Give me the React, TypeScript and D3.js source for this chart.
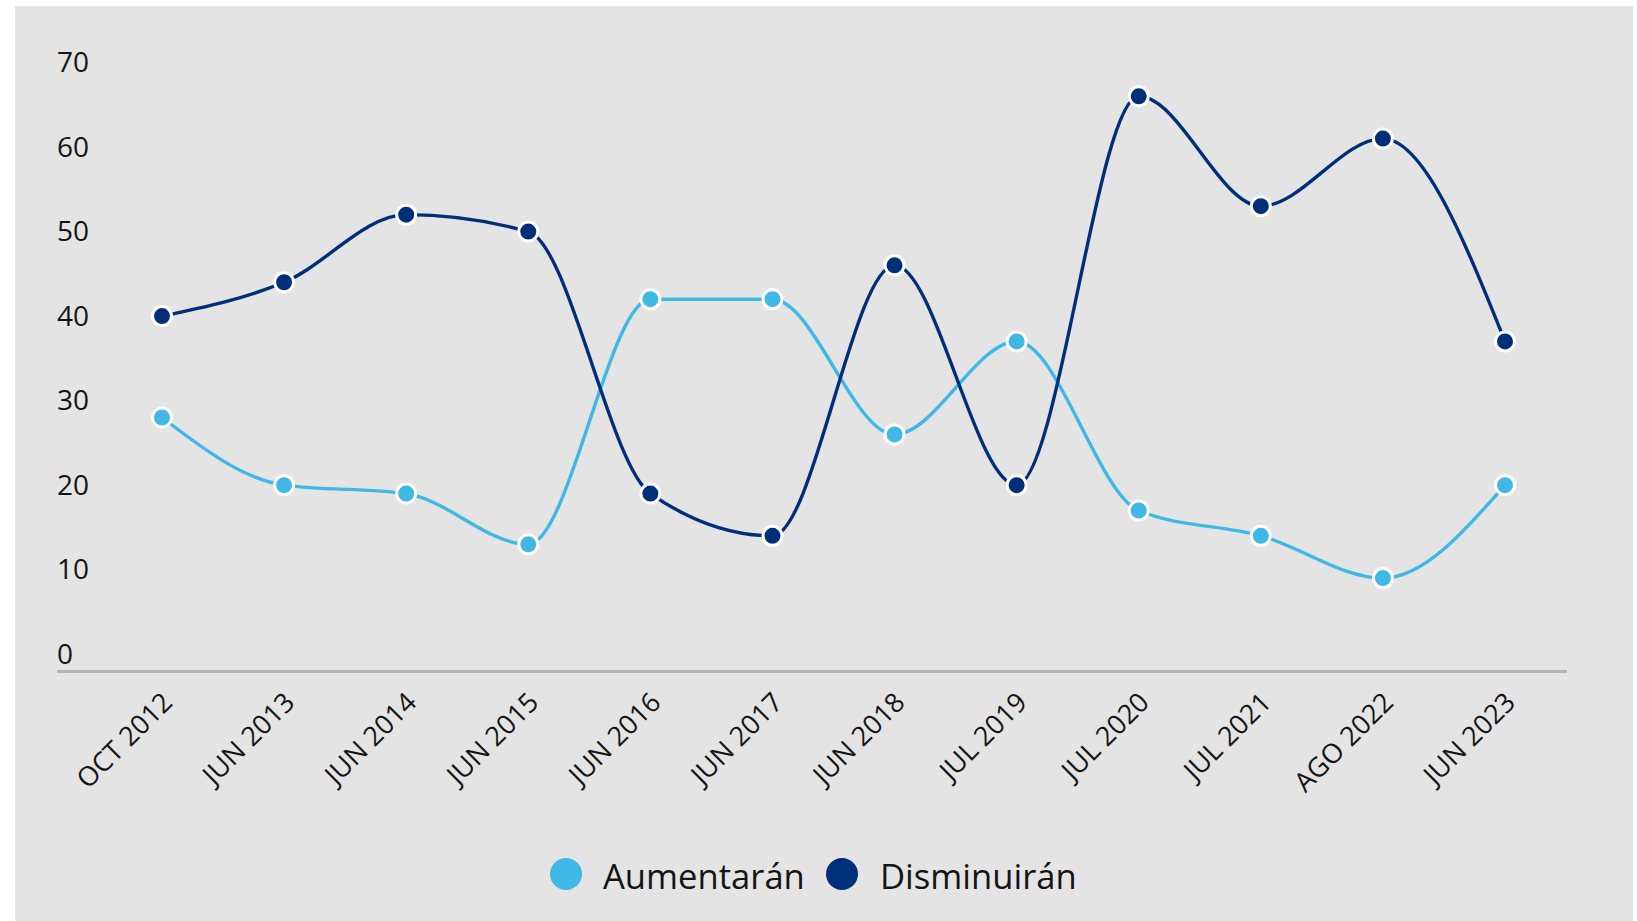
import React from "react";
import * as d3 from "d3";

const categories = ["OCT 2012","JUN 2013","JUN 2014","JUN 2015","JUN 2016","JUN 2017","JUN 2018","JUL 2019","JUL 2020","JUL 2021","AGO 2022","JUN 2023"];
const aumentaran = [28,20,19,13,42,42,26,37,17,14,9,20];
const disminuiran = [40,44,52,50,19,14,46,20,66,53,61,37];
const yTicks = [0,10,20,30,40,50,60,70];
const seriesNames = ["Aumentarán","Disminuirán"];
const seriesColors = ["#3fb8e5","#002f7a"];

export default function App() {
  const W = 1637, H = 921;
  const x = d3.scalePoint<string>().domain(categories).range([162, 1505]);
  const y = d3.scaleLinear().domain([0, 70]).range([654.2, 62.5]);
  const line = d3.line<number>()
    .x((_, i) => x(categories[i]) as number)
    .y((d) => y(d))
    .curve(d3.curveMonotoneX);
  const series = [aumentaran, disminuiran];
  const font = "'Open Sans', 'Noto Sans', sans-serif";
  const legend = [
    { cx: 566, tx: 603 },
    { cx: 842, tx: 880 },
  ];
  return (
    <svg width={W} height={H} style={{ position: "absolute", left: 0, top: 0, display: "block" }} fontFamily={font}>
      <rect x={0} y={0} width={W} height={H} fill="#ffffff" />
      <rect x={15} y={6} width={1618} height={H - 6} fill="#e4e4e4" />
      {yTicks.map((t) => (
        <text key={t} x={57} y={y(t) + 9.6} fontSize={28} fill="#141414">{t}</text>
      ))}
      <line x1={57} x2={1567} y1={671.5} y2={671.5} stroke="#b5b5b5" strokeWidth={3} />
      {categories.map((c) => {
        const px = (x(c) as number) + 12;
        const py = 704;
        return (
          <text key={c} x={px} y={py} fontSize={27} fill="#141414" textAnchor="end" transform={`rotate(-45 ${px} ${py})`}>{c}</text>
        );
      })}
      {series.map((s, si) => (
        <path key={si} d={line(s) || ""} fill="none" stroke={seriesColors[si]} strokeWidth={3.4} />
      ))}
      {series.map((s, si) => (
        <g key={si}>
          {s.map((v, i) => (
            <circle key={i} cx={x(categories[i]) as number} cy={y(v)} r={9.5} fill={seriesColors[si]} stroke="#ffffff" strokeWidth={3} />
          ))}
        </g>
      ))}
      {seriesNames.map((n, i) => (
        <g key={n}>
          <circle cx={legend[i].cx} cy={874} r={16} fill={seriesColors[i]} />
          <text x={legend[i].tx} y={889} fontSize={34.6} fill="#141414">{n}</text>
        </g>
      ))}
    </svg>
  );
}
